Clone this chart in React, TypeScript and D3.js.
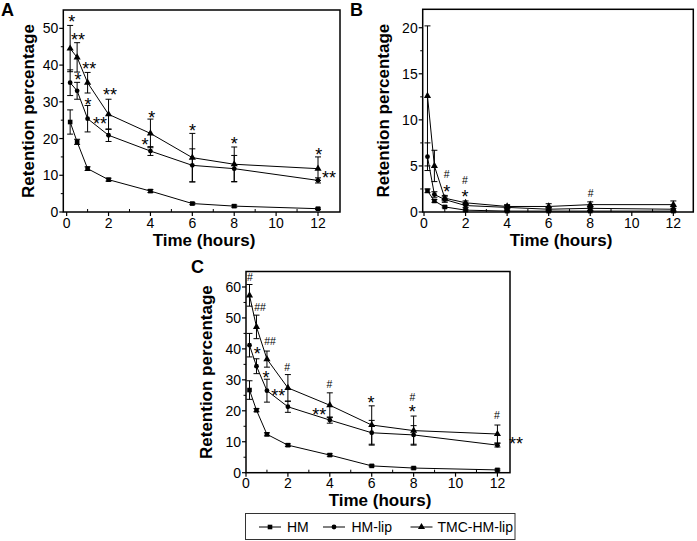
import React from "react";
import * as d3 from "d3";

// ---------- data ----------
const times = [0.167, 0.5, 1, 2, 4, 6, 8, 12];
const seriesNames = ["HM", "HM-lip", "TMC-HM-lip"];

// Panel A
const aHM = [24.5, 19.1, 11.8, 8.8, 5.7, 2.3, 1.6, 0.9];
const aHMErr = [3.3, 0.7, 0.5, 0.4, 0.4, 0.3, 0.3, 0.2];
const aLip = [35.2, 33.0, 25.4, 20.9, 16.6, 12.7, 11.8, 8.6];
const aLipErr = [3.5, 2.3, 3.6, 1.7, 1.2, 4.5, 3.6, 0.7];
const aTMC = [44.5, 42.1, 35.2, 26.6, 21.4, 14.8, 13.0, 11.8];
const aTMCErr = [6.3, 4.0, 2.8, 4.1, 3.9, 6.6, 4.7, 3.2];

// Panel B
const bHM = [2.3, 1.2, 0.55, 0.2, 0.1, 0.1, 0.1, 0.1];
const bHMErr = [0.2, 0.15, 0.1, 0.1, 0.05, 0.05, 0.05, 0.05];
const bLip = [6.0, 1.9, 1.35, 0.7, 0.5, 0.3, 0.4, 0.3];
const bLipErr = [1.5, 0.3, 0.3, 0.2, 0.2, 0.2, 0.2, 0.3];
const bTMC = [12.6, 5.0, 1.5, 1.0, 0.6, 0.6, 0.8, 0.8];
const bTMCErr = [7.6, 1.7, 0.3, 0.2, 0.2, 0.3, 0.3, 0.4];

// Panel C
const cHM = [26.7, 20.2, 12.4, 8.9, 5.7, 2.2, 1.5, 0.9];
const cHMErr = [3.0, 0.5, 0.5, 0.4, 0.4, 0.3, 0.3, 0.3];
const cLip = [41.2, 34.4, 26.5, 21.3, 17.0, 12.9, 12.2, 8.9];
const cLipErr = [3.8, 2.4, 3.7, 1.8, 1.0, 4.0, 3.0, 0.6];
const cTMC = [57.3, 47.1, 36.7, 27.4, 21.8, 15.4, 13.6, 12.5];
const cTMCErr = [3.5, 3.8, 2.6, 4.3, 4.0, 6.2, 4.7, 2.9];

// significance annotations: [hours, value, text]
const aMarks: [number, number, string][] = [
  [0.24, 53.0, "*"], [0.54, 48.1, "**"], [0.54, 37.2, "*"], [1.08, 40.2, "**"],
  [1.02, 30.4, "*"], [1.59, 25.2, "**"], [2.07, 33.0, "**"], [4.06, 26.9, "*"],
  [3.74, 19.5, "*"], [6.01, 23.2, "*"], [8.0, 19.7, "*"], [12.04, 16.8, "*"],
  [12.52, 10.3, "**"],
];
const bMarks: [number, number, string][] = [
  [1.09, 4.05, "#"], [1.09, 2.6, "*"], [1.97, 3.4, "#"], [1.97, 2.07, "*"], [8.02, 2.07, "#"],
];
const cMarks: [number, number, string][] = [
  [0.19, 63.2, "#"], [0.67, 53.5, "##"], [0.54, 39.6, "*"], [1.15, 42.3, "##"],
  [0.95, 32.1, "*"], [1.54, 26.1, "**"], [1.97, 34.2, "#"], [3.98, 28.5, "#"],
  [3.5, 20.0, "**"], [5.97, 23.8, "*"], [7.94, 24.3, "#"], [7.94, 21.1, "*"],
  [11.97, 18.4, "#"], [12.89, 10.5, "**"],
];

const xTicks = [0, 2, 4, 6, 8, 10, 12];
const xMinor = [1, 3, 5, 7, 9, 11];
const aYTicks = [0, 10, 20, 30, 40, 50];
const bYTicks = [0, 5, 10, 15, 20];
const cYTicks = [0, 10, 20, 30, 40, 50, 60];

const FONT = "'Liberation Sans', Arial, Helvetica, sans-serif";

type PanelProps = {
  letter: string;
  left: number; right: number; top: number; bottom: number;
  xDomain: [number, number]; yDomain: [number, number];
  yTicks: number[]; yMinorStep: number;
  hm: number[]; hmErr: number[]; lip: number[]; lipErr: number[]; tmc: number[]; tmcErr: number[];
  marks: [number, number, string][];
  letterPos: [number, number];
  yTitleX: number; xTitleX: number; xTitleY: number;
};

function Marker({ kind, x, y }: { kind: number; x: number; y: number }) {
  if (kind === 0) return <rect x={x - 2.3} y={y - 2.3} width={4.6} height={4.6} fill="#000" />;
  if (kind === 1) return <circle cx={x} cy={y} r={2.4} fill="#000" />;
  const p = d3.symbol().type(d3.symbolTriangle).size(22)();
  return <path d={p || ""} transform={`translate(${x},${y})`} fill="#000" />;
}

function Panel(p: PanelProps) {
  const x = d3.scaleLinear().domain(p.xDomain).range([p.left, p.right]);
  const y = d3.scaleLinear().domain(p.yDomain).range([p.bottom, p.top]);
  const line = d3.line<number>().x((_, i) => x(times[i])).y((v) => y(v));
  const series = [
    { vals: p.hm, err: p.hmErr },
    { vals: p.lip, err: p.lipErr },
    { vals: p.tmc, err: p.tmcErr },
  ];
  const yMinor: number[] = [];
  for (let v = p.yDomain[0] + p.yMinorStep; v < p.yDomain[1]; v += p.yMinorStep * 2) yMinor.push(v);
  const yMid = (p.top + p.bottom) / 2;
  return (
    <g>
      <text x={p.letterPos[0]} y={p.letterPos[1]} fontSize={18} fontWeight="bold" fontFamily={FONT}>{p.letter}</text>
      {/* error bars */}
      {series.map((s, si) =>
        s.vals.map((v, i) => {
          const cx = x(times[i]);
          const y1 = y(v + s.err[i]);
          const y2 = y(Math.max(v - s.err[i], p.yDomain[0]));
          return (
            <g key={`e${si}-${i}`} stroke="#000" strokeWidth={1}>
              <line x1={cx} x2={cx} y1={y1} y2={y2} />
              <line x1={cx - 3} x2={cx + 3} y1={y1} y2={y1} />
              <line x1={cx - 3} x2={cx + 3} y1={y2} y2={y2} />
            </g>
          );
        })
      )}
      {series.map((s, si) => (
        <path key={`l${si}`} d={line(s.vals) || ""} fill="none" stroke="#000" strokeWidth={1} />
      ))}
      {series.map((s, si) =>
        s.vals.map((v, i) => <Marker key={`m${si}-${i}`} kind={si} x={x(times[i])} y={y(v)} />)
      )}
      {/* frame */}
      <rect x={p.left} y={p.top} width={p.right - p.left} height={p.bottom - p.top} fill="none" stroke="#000" strokeWidth={1.5} />
      {/* x ticks */}
      {xTicks.map((t) => (
        <g key={`xt${t}`}>
          <line x1={x(t)} x2={x(t)} y1={p.bottom} y2={p.bottom + 4} stroke="#000" strokeWidth={1.2} />
          <text x={x(t)} y={p.bottom + 15.5} textAnchor="middle" fontSize={14} fontFamily={FONT}>{t}</text>
        </g>
      ))}
      {xMinor.filter((t) => t < p.xDomain[1]).map((t) => (
        <line key={`xm${t}`} x1={x(t)} x2={x(t)} y1={p.bottom} y2={p.bottom - 3} stroke="#000" strokeWidth={1} />
      ))}
      {/* y ticks */}
      {p.yTicks.map((t) => (
        <g key={`yt${t}`}>
          <line x1={p.left} x2={p.left - 4} y1={y(t)} y2={y(t)} stroke="#000" strokeWidth={1.2} />
          <text x={p.left - 5} y={y(t) + 5} textAnchor="end" fontSize={14} fontFamily={FONT}>{t}</text>
        </g>
      ))}
      {yMinor.map((t) => (
        <line key={`ym${t}`} x1={p.left} x2={p.left - 2.5} y1={y(t)} y2={y(t)} stroke="#000" strokeWidth={1} />
      ))}
      {/* annotations */}
      {p.marks.map(([mx, my, txt], i) => {
        const star = txt.includes("*");
        return (
          <text key={`a${i}`} x={x(mx)} y={y(my) + (star ? 10.3 : 3.7)} textAnchor="middle"
            fontSize={star ? 18 : 10.5} fontFamily={FONT}>{txt}</text>
        );
      })}
      {/* titles */}
      <text x={p.xTitleX} y={p.xTitleY} textAnchor="middle" fontSize={17} fontWeight="bold" fontFamily={FONT}>Time (hours)</text>
      <text transform={`translate(${p.yTitleX},${yMid}) rotate(-90)`} textAnchor="middle" fontSize={17} fontWeight="bold" fontFamily={FONT}>Retention percentage</text>
    </g>
  );
}

function Legend() {
  const items = [
    { x0: 259, tx: 287 },
    { x0: 323, tx: 351.5 },
    { x0: 410.5, tx: 437.5 },
  ];
  const cy = 527;
  return (
    <g>
      <rect x={245.5} y={513.5} width={269.5} height={26} fill="#fff" stroke="#333" strokeWidth={1} />
      {items.map((it, i) => (
        <g key={i}>
          <line x1={it.x0} x2={it.x0 + 22} y1={cy} y2={cy} stroke="#000" strokeWidth={1} />
          <Marker kind={i} x={it.x0 + 11} y={cy} />
          <text x={it.tx} y={cy + 5} fontSize={14} fontFamily={FONT}>{seriesNames[i]}</text>
        </g>
      ))}
    </g>
  );
}

export default function App() {
  return (
    <svg width={697} height={541} style={{ position: "absolute", left: 0, top: 0, background: "#fff" }}>
      <rect width={697} height={541} fill="#fff" />
      <Panel letter="A" left={63.3} right={340} top={10} bottom={212} xDomain={[-0.16, 13.05]} yDomain={[0, 55]}
        yTicks={aYTicks} yMinorStep={5} hm={aHM} hmErr={aHMErr} lip={aLip} lipErr={aLipErr} tmc={aTMC} tmcErr={aTMCErr}
        marks={aMarks} letterPos={[1, 16]} yTitleX={34} xTitleX={204} xTitleY={246} />
      <Panel letter="B" left={422.7} right={693.3} top={9.3} bottom={212} xDomain={[-0.063, 12.96]} yDomain={[0, 22]}
        yTicks={bYTicks} yMinorStep={2.5} hm={bHM} hmErr={bHMErr} lip={bLip} lipErr={bLipErr} tmc={bTMC} tmcErr={bTMCErr}
        marks={bMarks} letterPos={[350, 16]} yTitleX={389} xTitleX={561} xTitleY={246} />
      <Panel letter="C" left={246} right={510} top={271.5} bottom={472.7} xDomain={[0, 12.6]} yDomain={[0, 65]}
        yTicks={cYTicks} yMinorStep={5} hm={cHM} hmErr={cHMErr} lip={cLip} lipErr={cLipErr} tmc={cTMC} tmcErr={cTMCErr}
        marks={cMarks} letterPos={[191, 273]} yTitleX={212} xTitleX={380} xTitleY={506} />
      <Legend />
    </svg>
  );
}
